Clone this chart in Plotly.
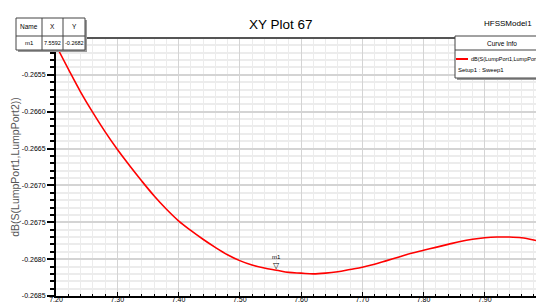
import plotly.graph_objects as go

# ---- data ----
freq = [7.20, 7.22, 7.24, 7.26, 7.28, 7.30, 7.32, 7.34, 7.36, 7.38, 7.40,
        7.42, 7.44, 7.46, 7.48, 7.50, 7.52, 7.54, 7.56, 7.58, 7.60,
        7.62, 7.64, 7.66, 7.68, 7.70, 7.72, 7.74, 7.76, 7.78, 7.80,
        7.82, 7.84, 7.86, 7.88, 7.90, 7.92, 7.94, 7.96, 7.98, 8.00]
db_s21 = [-0.26510, -0.26542, -0.26573, -0.26601, -0.26627, -0.26651, -0.26673,
          -0.26694, -0.26714, -0.26732, -0.26748, -0.26761, -0.26773, -0.26784,
          -0.26794, -0.26802, -0.26808, -0.26812, -0.26815, -0.26818, -0.26819,
          -0.26820, -0.26819, -0.26817, -0.26814, -0.26811, -0.26807, -0.26802,
          -0.26797, -0.26792, -0.26788, -0.26784, -0.26780, -0.26776, -0.26773,
          -0.26771, -0.26770, -0.26770, -0.26771, -0.26774, -0.26778]
marker_name = "m1"
marker_x = 7.5592
marker_y = -0.2682
x_ticks = [7.20, 7.30, 7.40, 7.50, 7.60, 7.70, 7.80, 7.90, 8.00]
y_ticks = [-0.2685, -0.2680, -0.2675, -0.2670, -0.2665, -0.2660, -0.2655]

W, H = 544, 304
L, R, T, B = 48, 6, 30, 16
PW, PH = W - L - R, H - T - B

def px(x):
    return (x - L) / PW

def py(y):
    return (H - B - y) / PH

FONT = "Liberation Sans"

fig = go.Figure()
fig.add_trace(go.Scatter(x=freq, y=db_s21, mode="lines",
                         line=dict(color="#ff0000", width=1.6, shape="spline", smoothing=1),
                         showlegend=False, hoverinfo="skip"))

grid_major = "#d4d4d4"
grid_minor = "#ececec"
fig.update_xaxes(range=[7.20, 8.00], tickvals=x_ticks,
                 ticktext=[f"{v:.2f}" for v in x_ticks],
                 showgrid=True, gridcolor=grid_major, gridwidth=1,
                 minor=dict(dtick=0.02, showgrid=True, gridcolor=grid_minor,
                            ticks="inside", ticklen=2, tickcolor="#000"),
                 ticks="inside", ticklen=4, tickcolor="#000",
                 ticklabelstandoff=-4,
                 showline=True, linecolor="#000", linewidth=2,
                 zeroline=False, tickfont=dict(family=FONT, size=7, color="#000"))
fig.update_yaxes(range=[-0.2685, -0.2650], tickvals=y_ticks,
                 ticktext=[f"{v:.4f}" for v in y_ticks],
                 showgrid=True, gridcolor=grid_major, gridwidth=2,
                 minor=dict(dtick=0.0001, showgrid=True, gridcolor=grid_minor,
                            ticks="outside", ticklen=4, tickcolor="#000"),
                 ticks="outside", ticklen=7, tickcolor="#000", tickwidth=1.5,
                 showline=True, linecolor="#000", linewidth=2,
                 zeroline=False, tickfont=dict(family=FONT, size=7, color="#000"),
                 title=dict(text="dB(S(LumpPort1,LumpPort2))", standoff=0,
                            font=dict(family=FONT, size=10.5, color="#555")))

shapes = []
# top and right borders
shapes.append(dict(type="line", xref="paper", yref="paper", x0=0, x1=1, y0=1, y1=1,
                   line=dict(color="#555", width=2)))
shapes.append(dict(type="line", xref="paper", yref="paper", x0=1, x1=1, y0=0, y1=1,
                   line=dict(color="#888", width=2)))

def box(x0, y0, x1, y1):
    shapes.append(dict(type="rect", xref="paper", yref="paper",
                       x0=px(x0 + 2), x1=px(x1 + 2), y0=py(y1 + 2), y1=py(y0 + 2),
                       fillcolor="#999", line=dict(width=0), layer="above"))
    shapes.append(dict(type="rect", xref="paper", yref="paper",
                       x0=px(x0), x1=px(x1), y0=py(y1), y1=py(y0),
                       fillcolor="#fff", line=dict(color="#444", width=1), layer="above"))

def hline(x0, x1, y, color="#444", w=1):
    shapes.append(dict(type="line", xref="paper", yref="paper",
                       x0=px(x0), x1=px(x1), y0=py(y), y1=py(y),
                       line=dict(color=color, width=w), layer="above"))

def vline(x, y0, y1):
    shapes.append(dict(type="line", xref="paper", yref="paper",
                       x0=px(x), x1=px(x), y0=py(y0), y1=py(y1),
                       line=dict(color="#444", width=1), layer="above"))

# marker table
box(8, 10, 77, 42)
hline(8, 77, 28)
vline(34, 10, 42)
vline(55, 10, 42)
# curve info legend
box(447, 28, 541, 70)
hline(447, 541, 42)
hline(448, 460, 51, color="#ff0000", w=2)

annotations = []

def txt(x, y, s, size=7, anchor="center", color="#000"):
    annotations.append(dict(xref="paper", yref="paper", x=px(x), y=py(y), text=s,
                            showarrow=False, xanchor=anchor, yanchor="middle",
                            font=dict(family=FONT, size=size, color=color)))

txt(21, 19, "Name", size=6.5)
txt(44.5, 19, "X", size=6.5)
txt(66, 19, "Y", size=6.5)
txt(21, 35, marker_name, size=6)
txt(44.5, 35, f"{marker_x:.4f}", size=5.5)
txt(66, 35, f"{marker_y:.4f}", size=5.5)
txt(494, 35, "Curve Info", size=6.5)
txt(461, 51, "dB(S(LumpPort1,LumpPort2))", anchor="left", size=5.5)
txt(448, 62, "Setup1 : Sweep1", anchor="left", size=6)
txt(273, 17, "XY Plot 67", size=13.5)
txt(526, 16, "HFSSModel1", anchor="right", size=8)
txt(533, 14, "▲", size=8, color="#c8102e")

# marker on the curve
annotations.append(dict(x=marker_x, y=marker_y, xref="x", yref="y", text="▽",
                        showarrow=False, yshift=8, font=dict(family="DejaVu Sans", size=8, color="#000")))
annotations.append(dict(x=marker_x, y=marker_y, xref="x", yref="y", text=marker_name,
                        showarrow=False, yshift=17, font=dict(family=FONT, size=6, color="#000")))

fig.update_layout(width=W, height=H, margin=dict(l=L, r=R, t=T, b=B),
                  paper_bgcolor="#fff", plot_bgcolor="#fff",
                  shapes=shapes, annotations=annotations, showlegend=False)
fig.write_html("out.html")
